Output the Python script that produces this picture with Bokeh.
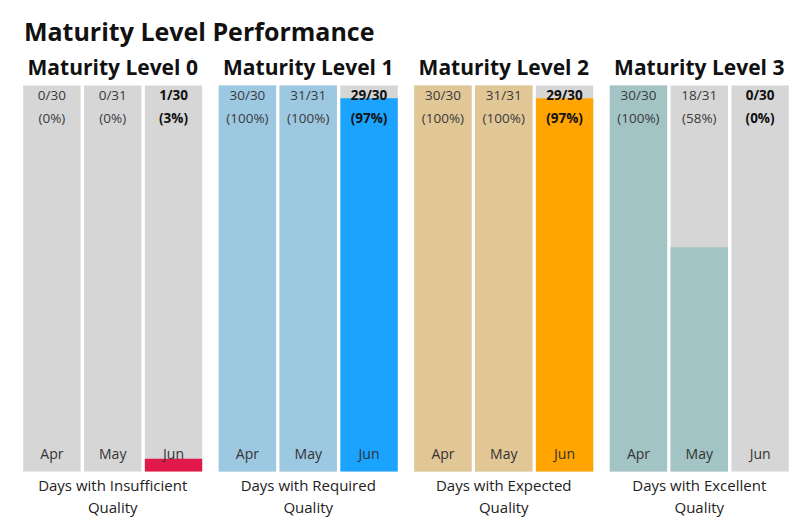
from bokeh.plotting import figure
from bokeh.models import FactorRange, Range1d, ColumnDataSource
from bokeh.core.properties import value
from bokeh.embed import file_html
from bokeh.resources import INLINE

# ---- data ----
title = "Maturity Level Performance"
levels = ["Maturity Level 0", "Maturity Level 1", "Maturity Level 2", "Maturity Level 3"]
quality = ["Insufficient", "Required", "Expected", "Excellent"]
months = ["Apr", "May", "Jun"]
month_days = [30, 31, 30]
days_met = {
    "Maturity Level 0": [0, 0, 1],
    "Maturity Level 1": [30, 31, 29],
    "Maturity Level 2": [30, 31, 29],
    "Maturity Level 3": [30, 18, 0],
}
base_colors = ["#e0194a", "#9dc8e2", "#e2c796", "#a2c4c5"]
current_colors = ["#e0194a", "#1aa3ff", "#ffa400", "#6fa5a7"]

FONT = "Open Sans"

factors, frac, fill, txt1, txt2, tcol, tstyle = [], [], [], [], [], [], []
for li, lvl in enumerate(levels):
    for mi, m in enumerate(months):
        met = days_met[lvl][mi]
        tot = month_days[mi]
        factors.append((lvl, m))
        frac.append(met / tot)
        last = mi == len(months) - 1
        fill.append(current_colors[li] if last else base_colors[li])
        txt1.append(f"{met}/{tot}")
        txt2.append(f"({round(100 * met / tot)}%)")
        tcol.append("#111111" if last else "#3a3a3a")
        tstyle.append("bold" if last else "normal")

src = ColumnDataSource(dict(x=factors, frac=frac, full=[1.0] * len(factors), fill=fill,
                            t1=txt1, t2=txt2, tcol=tcol, tstyle=tstyle,
                            month=[f[1] for f in factors]))

p = figure(width=790, height=518,
           x_range=FactorRange(*factors, group_padding=0.215, factor_padding=0.0, range_padding=0.0),
           y_range=Range1d(-0.12176, 1.2202),
           output_backend="svg", toolbar_location=None,
           x_axis_location=None, y_axis_location=None,
           min_border_left=21, min_border_right=0, min_border_top=0, min_border_bottom=0)
p.grid.visible = False
p.outline_line_color = None

W = 0.943
p.vbar(x="x", top="full", bottom=0, width=W, source=src, fill_color="#d6d6d6", line_color=None)
p.vbar(x="x", top="frac", bottom=0, width=W, source=src, fill_color="fill", line_color=None)

p.text(x="x", y=1, text="t1", source=src, y_offset=10, text_align="center", text_baseline="middle",
       text_font=value(FONT), text_font_size="13.5px", text_color="tcol", text_font_style="tstyle")
p.text(x="x", y=1, text="t2", source=src, y_offset=33, text_align="center", text_baseline="middle",
       text_font=value(FONT), text_font_size="13.5px", text_color="tcol", text_font_style="tstyle")
p.text(x="x", y=0, text="month", source=src, y_offset=-18, text_align="center", text_baseline="middle",
       text_font=value(FONT), text_font_size="14px", text_color="#333333")

hsrc = ColumnDataSource(dict(x=levels, lab=levels,
                             b1=[f"Days with {q}" for q in quality],
                             b2=["Quality"] * len(quality)))
p.text(x="x", y=1, text="lab", source=hsrc, y_offset=-18, text_align="center", text_baseline="middle",
       text_font=value(FONT), text_font_size="21px", text_font_style="bold", text_color="#111111")
p.text(x="x", y=0, text="b1", source=hsrc, y_offset=13, text_align="center", text_baseline="middle",
       text_font=value(FONT), text_font_size="15px", text_color="#222222")
p.text(x="x", y=0, text="b2", source=hsrc, y_offset=35, text_align="center", text_baseline="middle",
       text_font=value(FONT), text_font_size="15px", text_color="#222222")

tsrc = ColumnDataSource(dict(x=[factors[0]], t=[title]))
p.text(x="x", y=1, text="t", source=tsrc, x_offset=-28, y_offset=-54, text_align="left",
       text_baseline="middle", text_font=value(FONT), text_font_size="25px", text_font_style="bold",
       text_color="#111111")

open("out.html", "w").write(file_html(p, INLINE))
